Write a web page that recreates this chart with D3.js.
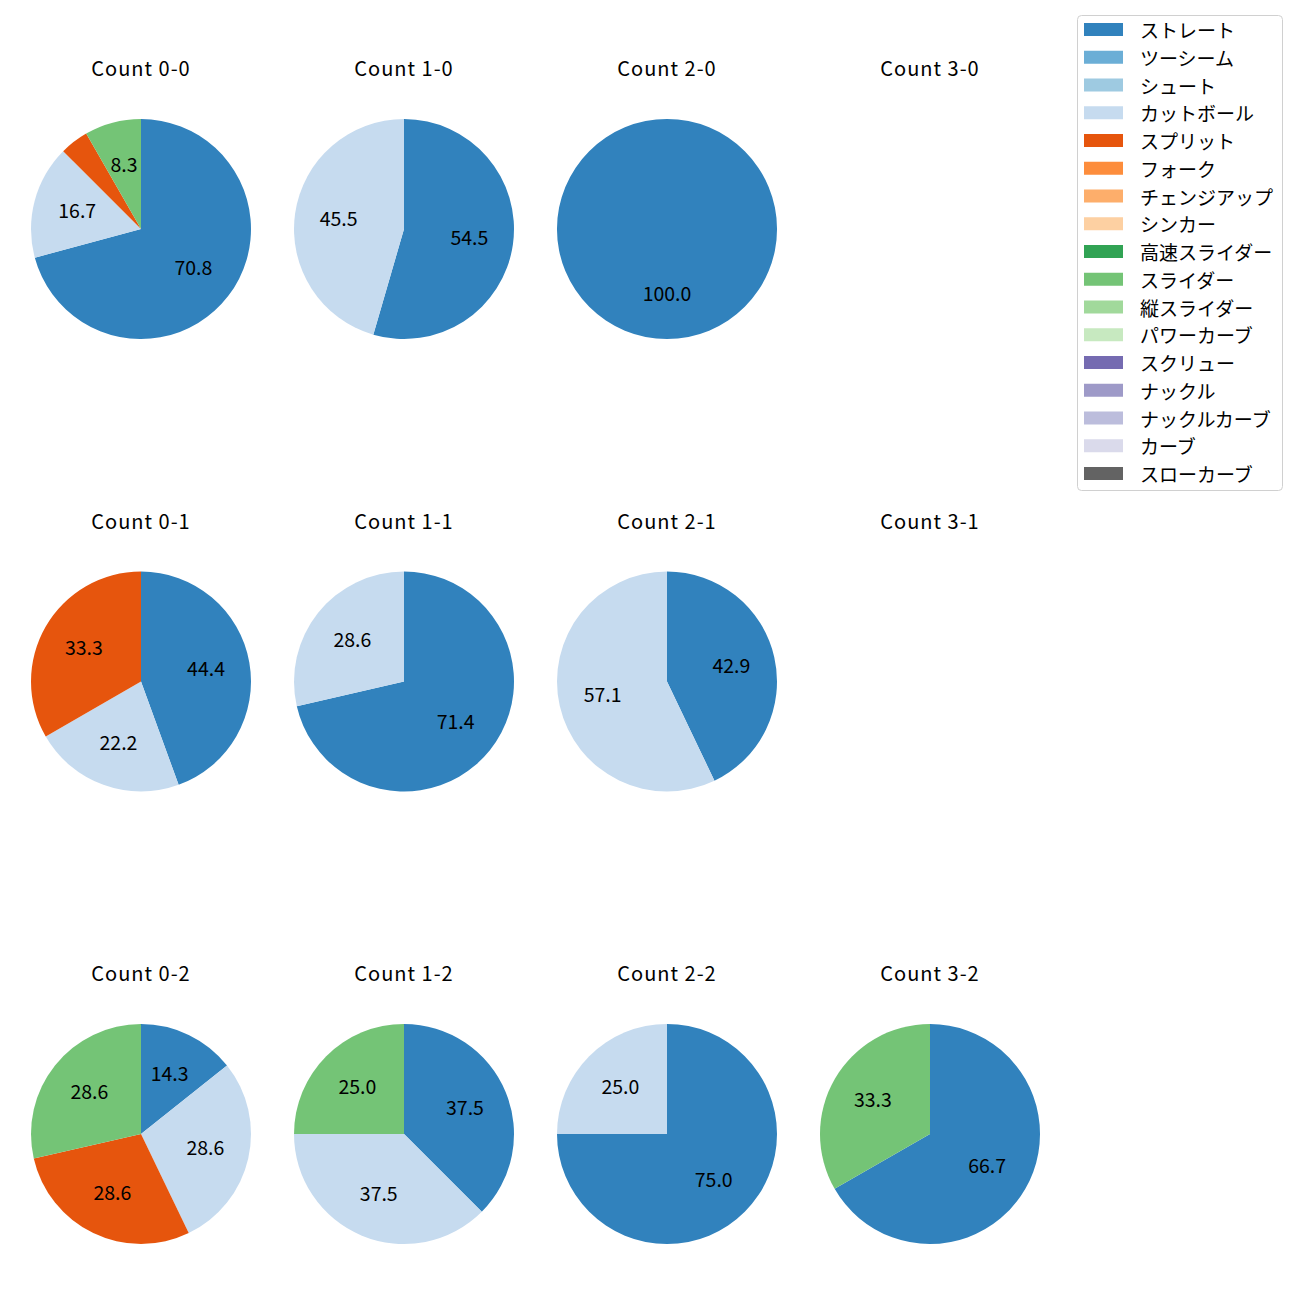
<!DOCTYPE html>
<html><head><meta charset="utf-8">
<script src="https://cdn.jsdelivr.net/npm/d3@7"></script>
<style>body{margin:0;background:#fff}svg{display:block}text{font-family:"Noto Sans CJK JP","Noto Sans",sans-serif;fill:#000}</style>
</head><body>
<svg id="c" width="1300" height="1300"></svg>
<script>
const pitchTypes = ["ストレート","ツーシーム","シュート","カットボール","スプリット","フォーク","チェンジアップ","シンカー","高速スライダー","スライダー","縦スライダー","パワーカーブ","スクリュー","ナックル","ナックルカーブ","カーブ","スローカーブ"];
const pitchColors = ["#3182bd","#6baed6","#9ecae1","#c6dbef","#e6550d","#fd8d3c","#fdae6b","#fdd0a2","#31a354","#74c476","#a1d99b","#c7e9c0","#756bb1","#9e9ac8","#bcbddc","#dadaeb","#636363"];
const countTitles = ["Count 0-0","Count 1-0","Count 2-0","Count 3-0","Count 0-1","Count 1-1","Count 2-1","Count 3-1","Count 0-2","Count 1-2","Count 2-2","Count 3-2"];
// percentages per panel (row-major), by pitch type
const straight = [70.8, 54.5, 100.0, 0, 44.4, 71.4, 42.9, 0, 14.3, 37.5, 75.0, 66.7];
const cutter   = [16.7, 45.5, 0, 0, 22.2, 28.6, 57.1, 0, 28.6, 37.5, 25.0, 0];
const splitter = [4.2, 0, 0, 0, 33.3, 0, 0, 0, 28.6, 0, 0, 0];
const slider   = [8.3, 0, 0, 0, 0, 0, 0, 0, 28.6, 25.0, 0, 33.3];
const seriesByType = {"ストレート": straight, "カットボール": cutter, "スプリット": splitter, "スライダー": slider};

const svg = d3.select("#c");
const color = d3.scaleOrdinal().domain(pitchTypes).range(pitchColors);
const colX = d3.scalePoint().domain([0,1,2,3]).range([141, 930]);
const rowY = d3.scalePoint().domain([0,1,2]).range([229, 1134]);
const R = 110;
const pie = d3.pie().sort(null).value(d => d.v).startAngle(0).endAngle(2*Math.PI);
const arc = d3.arc().innerRadius(0).outerRadius(R);
const labelArc = d3.arc().innerRadius(R*0.6).outerRadius(R*0.6);

countTitles.forEach((t, i) => {
  const c = i % 4, r = Math.floor(i / 4);
  const g = svg.append("g").attr("transform", `translate(${colX(c)},${rowY(r)})`);
  g.append("text").attr("x", 0).attr("y", -153).attr("text-anchor", "middle").attr("font-size", 20)
    .attr("letter-spacing", 1).text(t);
  const data = pitchTypes.map(p => ({p, v: seriesByType[p] ? seriesByType[p][i] : 0})).filter(d => d.v > 0);
  if (!data.length) return;
  const arcs = pie(data);
  g.selectAll("path").data(arcs).enter().append("path").attr("d", arc).attr("fill", d => color(d.data.p));
  g.selectAll("text.lbl").data(arcs.filter(d => d.data.v >= 5)).enter().append("text").attr("class","lbl")
    .attr("transform", d => { const [x, y] = labelArc.centroid(d); return `translate(${x},${y + 6.3})`; })
    .attr("text-anchor", "middle").attr("font-size", 19.5)
    .text(d => d.data.v.toFixed(1));
});

// legend
const lg = svg.append("g");
const ly = d3.scaleLinear().domain([0, pitchTypes.length - 1]).range([29.5, 473.5]);
lg.append("rect").attr("x", 1077.5).attr("y", 15.5).attr("width", 205).attr("height", 475).attr("rx", 4).attr("fill", "#fff").attr("stroke", "#d0d0d0");
pitchTypes.forEach((p, i) => {
  lg.append("rect").attr("x", 1084).attr("y", ly(i) - 6.5).attr("width", 39).attr("height", 13).attr("fill", color(p));
  lg.append("text").attr("x", 1140).attr("y", ly(i)).attr("dominant-baseline", "central").attr("font-size", 19).text(p);
});
</script>
</body></html>
